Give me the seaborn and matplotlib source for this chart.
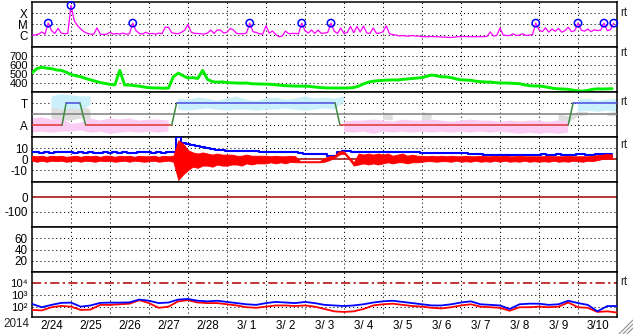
import numpy as np
import pandas as pd
import matplotlib
matplotlib.use("Agg")
import matplotlib.pyplot as plt
import seaborn as sns
from matplotlib.lines import Line2D
from matplotlib.ticker import NullLocator

sns.set_theme(style="white")
plt.rcParams['font.family'] = ['Liberation Sans', 'DejaVu Sans']

# ---------------- data ----------------
year_label = "2014"
day_labels = ["2/24", "2/25", "2/26", "2/27", "2/28", "3/ 1", "3/ 2", "3/ 3",
              "3/ 4", "3/ 5", "3/ 6", "3/ 7", "3/ 8", "3/ 9", "3/10"]
side_label = "rt"

# X-ray flux, 2-hour cadence, in units of 1e-6 W/m2 (C1 = 1)
xray_c = [
    1.0, 1.0, 1.2, 1.9, 1.2, 12, 2.5, 1.4, 4.0, 1.5, 1.3, 1.4,
    490, 20, 7, 3.5, 2.0, 1.4, 1.2, 1.2, 4.5, 1.2, 1.1, 1.2,
    1.8, 1.2, 1.4, 1.2, 1.5, 1.2, 1.3, 12, 2.5, 1.4, 1.2, 1.8,
    1.3, 1.4, 1.2, 1.5, 1.3, 5, 5, 1.6, 1.4, 1.3, 1.8, 2.8,
    9, 1.8, 1.4, 1.4, 1.3, 1.2, 1.5, 2.8, 1.4, 2.8, 2.8, 1.5,
    1.8, 4, 2.8, 1.4, 1.3, 1.3, 1.5, 12, 2.0, 1.7, 1.3, 1.2,
    7, 1.5, 2.3, 1.1, 0.7, 0.8, 2.3, 1.3, 1.4, 1.4, 1.3, 12,
    2.5, 1.5, 2.8, 1.4, 2.8, 1.4, 1.5, 1.7, 12, 2.2, 1.4, 4.3,
    1.4, 1.7, 6, 1.6, 6, 1.9, 6.5, 1.5, 1.4, 4.3, 1.4, 1.5,
    2.0, 7, 1.3, 1.1, 1.0, 0.8, 0.9, 0.8, 0.8, 0.9, 0.8, 0.8,
    0.7, 0.7, 0.7, 0.75, 0.7, 0.7, 0.65, 0.65, 0.6, 0.6, 0.65, 0.7,
    0.7, 0.75, 0.7, 0.7, 0.7, 0.7, 0.7, 0.7, 0.75, 1.9, 0.8, 0.9,
    4.3, 1.0, 0.9, 0.9, 1.3, 0.9, 1.0, 1.3, 0.9, 1.0, 1.1, 12,
    3, 2, 4.5, 1.8, 3.5, 2.2, 4, 1.8, 2.5, 5, 2.0, 2.5,
    12, 2.8, 2.2, 3.5, 2.0, 3, 2.5, 2.8, 12, 2.5, 3, 12,
]
flare_idx = [5, 12, 31, 67, 83, 92, 155, 168, 176, 179]
xray_tick_vals = [1e-6, 1e-5, 1e-4]
xray_tick_labels = ["C", "M", "X"]

# Solar wind speed, 3-hour cadence (km/s)
wind = [
    511, 560, 575, 565, 560, 545, 540, 520,
    495, 480, 470, 450, 435, 420, 405, 395,
    385, 380, 540, 378, 378, 370, 365, 355,
    348, 345, 344, 342, 344, 470, 510, 480,
    455, 460, 450, 540, 440, 415, 410, 412,
    405, 402, 400, 398, 400, 392, 390, 388,
    388, 385, 380, 375, 370, 368, 366, 365,
    365, 362, 355, 350, 346, 345, 344, 344,
    344, 345, 350, 365, 390, 410, 420, 425,
    430, 432, 435, 433, 440, 445, 450, 455,
    460, 475, 489, 480, 470, 467, 460, 445,
    435, 433, 430, 420, 415, 411, 410, 405,
    400, 400, 398, 395, 392, 380, 370, 367,
    367, 360, 350, 340, 335, 333, 330, 320,
    313, 310, 318, 330, 335, 333, 335, 337,
]
wind_ticks = [400, 500, 600, 700]

# Alert level (0 = A, 1 = T)
level_hours = [0, 18.5, 21, 29.5, 33, 86, 89, 186.5, 189.5, 330, 333, 360]
level_vals = [0, 0, 1, 1, 0, 0, 1, 1, 0, 0, 1, 1]
level_tick_labels = ["A", "T"]
nan = np.nan
# 6-hour cadence probability clouds (lower/upper)
gray_lo = [nan, nan, 0.3, 0.2, 0.2, 0.3, 0.2, nan, nan, 0.15, nan, nan, nan, nan, nan,
           nan, nan, nan, nan, nan, nan, nan, nan, nan, nan, nan, nan, nan, nan, nan, nan, nan,
           nan, 0.2, nan, nan, 0.25, 0.2, nan, nan, 0.2, 0.25, nan, nan, nan, 0.2, nan, nan,
           nan, nan, 0.15, nan, 0.2, nan, 0.15, 0.1, 0.4, 0.45, nan, 0.4, 0.4]
gray_hi = [nan, nan, 0.8, 1.0, 0.9, 0.9, 0.7, nan, nan, 0.45, nan, nan, nan, nan, nan,
           nan, nan, nan, nan, nan, nan, nan, nan, nan, nan, nan, nan, nan, nan, nan, nan, nan,
           nan, 0.5, nan, nan, 0.55, 0.5, nan, nan, 0.6, 0.5, nan, nan, nan, 0.45, nan, nan,
           nan, nan, 0.4, nan, 0.5, nan, 0.5, 0.4, 0.6, 0.6, nan, 0.55, 0.6]
pink_lo = [-0.35, -0.3, -0.35, -0.3, -0.3, -0.25, -0.35, -0.3, -0.4, -0.35, -0.3, -0.35, -0.3, -0.35, -0.3,
           nan, nan, nan, nan, nan, nan, nan, nan, nan, nan, nan, nan, nan, nan, nan, nan, nan,
           -0.3, -0.35, -0.3, -0.4, -0.3, -0.35, -0.3, -0.35, -0.3, -0.35, -0.3, -0.35, -0.3, -0.35, -0.3, -0.35,
           -0.3, -0.35, -0.4, -0.35, -0.4, -0.35, -0.4, -0.35, nan, nan, nan, nan, nan]
pink_hi = [0.3, 0.35, 0.25, 0.3, 0.05, 0.1, 0.3, 0.2, 0.3, 0.25, 0.3, 0.2, 0.25, 0.25, 0.2,
           nan, nan, nan, nan, nan, nan, nan, nan, nan, nan, nan, nan, nan, nan, nan, nan, nan,
           0.15, 0.2, 0.2, 0.25, 0.2, 0.15, 0.25, 0.2, 0.2, 0.25, 0.2, 0.15, 0.2, 0.25, 0.2, 0.2,
           0.15, 0.2, 0.15, 0.2, 0.2, 0.15, 0.2, 0.15, nan, nan, nan, nan, nan]
blue_lo = [nan, nan, 0.8, 0.7, 0.75, 0.7, 0.9, nan, nan, nan, nan, nan, nan, nan, nan,
           0.7, 0.65, 0.7, 0.75, 0.7, 0.65, 0.7, 0.7, 0.65, 0.7, 0.7, 0.75, 0.7, 0.65, 0.7, 0.75, 0.7,
           1.05, nan, nan, nan, nan, nan, 1.0, nan, nan, nan, nan, nan, nan, nan, nan, nan,
           nan, nan, nan, nan, nan, nan, nan, nan, 0.6, 0.65, 0.6, 0.65, 0.6]
blue_hi = [nan, nan, 1.3, 1.4, 1.35, 1.3, 1.3, nan, nan, nan, nan, nan, nan, nan, nan,
           1.2, 1.15, 1.25, 1.2, 1.1, 1.2, 1.3, 1.15, 1.1, 1.2, 1.25, 1.15, 1.2, 1.3, 1.2, 1.25, 1.2,
           1.3, nan, nan, nan, nan, nan, 1.35, nan, nan, nan, nan, nan, nan, nan, nan, nan,
           nan, nan, nan, nan, nan, nan, nan, nan, 1.15, 1.2, 1.1, 1.15, 1.2]

# IMF: Bz range (low / high) and Bt, 3-hour cadence (nT)
bz_lo = [
    -1.5, -2.5, -1.5, -2.5, -1.5, -2, -1.5, -2.5,
    -2, -1.5, -2.5, -1.5, -2, -2.5, -1.5, -2,
    -1.5, -2.5, -2, -1.5, -2.5, -1.5, -2, -2.5,
    -2, -1.5, -2.5, -2, -1.5, -2.5, -19, -14,
    -10, -7, -8, -6, -6, -7, -5, -6,
    -6, -5, -5, -6, -4, -5, -4, -4,
    -4, -3, -4, -3, -4, -2.5, -3, -3,
    -3, -3, -3, -3, -2.5, -1, 1, 4,
    5, 0, -6, -5, -4, -5, -4, -5,
    -4, -3, -4, -3, -3, -4, -3, -3,
    -2.5, -2, -2, -2.5, -2, -2, -2.5, -1.5,
    -2.5, -2, -2.5, -1.5, -2.5, -2, -2.5, -1.5,
    -2.5, -1.5, -2.5, -2, -2.5, -1.5, -2.5, -2,
    -2.5, -2, -2.5, -1.5, -2.5, -2, -2.5, -1.5,
    -2, -2.5, -1.5, -2, -1, 0, 0.5, 0,
]
bz_hi = [
    3, 2.5, 3, 2, 3, 2.5, 3, 2,
    2.5, 3, 2, 3, 2.5, 3, 2, 3,
    3, 2, 3, 2.5, 3, 2, 3, 2.5,
    2.5, 3, 2, 3, 2.5, 3, 17, 14,
    8, 6, 5, 6, 5, 4, 5, 4,
    4, 4, 3, 3, 4, 3, 3, 3,
    3, 2.5, 3, 2.5, 2.5, 3, 2.5, -2,
    -2, -2, -2, -2, 1, 2.5, 3, 7,
    7, 2, -3, 5, 4, 5, 4, 5,
    4, 5, 3, 4, 5, 3, 4, 3,
    3, 2.5, 3, 2.5, 3, 2.5, 3, 2.5,
    2.5, 3, 2.5, 2.5, 3, 2.5, 2.5, 3,
    2.5, 3, 2.5, 2.5, 3, 2.5, 2.5, 2.5,
    2.5, 2.5, 3, 2.5, 2.5, 2.5, 3, 2.5,
    2.5, 2.5, 2.5, 3, 3.5, 4, 4.5, 4,
]
bt = [
    6, 6, 5.5, 6, 5.5, 6, 6.5, 6,
    6, 5.5, 6, 5.5, 6, 5.5, 5.5, 6,
    5.5, 6, 5.5, 6, 5.5, 5.5, 6, 6,
    6, 5.5, 6, 5.5, 6, 6.5, 20, 15,
    14, 13, 12, 11, 10, 9, 8, 8,
    7.5, 7.5, 7.5, 7, 7, 7, 7, 6.5,
    6, 6, 6, 6, 6, 6, 6, 5.5,
    5, 5, 5, 5, 5, 3, 2.5, 6,
    7, 7, 6.5, 6.5, 6.5, 6.5, 6.5, 6,
    6, 6, 6, 6, 6, 6, 6, 6,
    5.5, 5.5, 5.5, 5.5, 5.5, 5.5, 5.5, 5.5,
    5.5, 5.5, 5, 5, 4.5, 4, 4, 4,
    4, 4, 4, 4, 4, 4, 4, 4,
    4, 4.5, 4, 4, 4.5, 4, 4, 4,
    4.5, 4.5, 4, 4, 4.5, 5, 5, 4.5,
]
bz_ticks = [-10, 0, 10]

dst_ticks = [-100, 0]
panel6_ticks = [20, 40, 60]

# Electron flux (log10), 6-hour cadence
elec_blue = [2.23, 1.95, 2.15, 2.32, 2.34, 2.0, 2.1, 2.32, 2.34, 2.34, 2.36, 2.6, 2.5, 2.3,
             2.35, 2.6, 2.65, 2.5, 2.45, 2.5, 2.4, 2.3, 2.2, 2.15, 2.3, 2.4, 2.35, 2.3,
             2.4, 2.3, 2.15, 2.1, 2.05, 2.1, 2.2, 2.35, 2.45, 2.5, 2.4, 2.3, 2.2, 2.1,
             2.1, 2.2, 2.35, 2.45, 2.2, 2.15, 2.1, 1.8, 2.2, 2.25, 2.25, 2.15, 2.2, 2.5,
             2.3, 2.15, 1.6, 2.05, 2.05]
elec_red = [1.72, 1.68, 1.95, 2.06, 2.0, 1.72, 1.75, 2.15, 2.15, 2.2, 2.25, 2.55, 2.3, 1.9,
            2.0, 2.45, 2.55, 2.35, 2.3, 2.3, 2.2, 2.1, 1.95, 1.9, 2.0, 2.1, 2.1, 2.05,
            2.1, 2.0, 1.8, 1.6, 1.55, 1.6, 1.8, 2.1, 2.2, 2.25, 2.15, 2.05, 2.0, 1.9,
            1.85, 1.95, 2.1, 2.2, 2.0, 1.95, 1.9, 1.65, 1.95, 1.95, 2.0, 1.95, 2.0, 2.35,
            1.95, 1.9, 1.55, 1.6, 1.5]
elec_threshold = 1e4
elec_ticks = [1e2, 1e3, 1e4]
elec_tick_labels = ["10\u00b2", "10\u00b3", "10\u2074"]

# ---------------- figure ----------------
W, H = 633, 334
fig = plt.figure(figsize=(W / 100, H / 100), dpi=100)
fig.patch.set_facecolor("white")
X0, X1 = 32, 617
bounds = [(2, 47), (47, 92), (92, 137), (137, 182), (182, 227), (227, 272), (272, 317)]
DOT = (0, (1, 2.8))
FS = 8.4

axes = []
for (y0, y1) in bounds:
    ax = fig.add_axes([X0 / W, 1 - y1 / H, (X1 - X0) / W, (y1 - y0) / H])
    ax.set_facecolor("white")
    for s in ax.spines.values():
        s.set_visible(True)
        s.set_color("black")
        s.set_linewidth(1.1)
    ax.tick_params(axis="both", length=0, labelsize=FS, pad=3, colors="black")
    axes.append(ax)


def hdots(ax, vals):
    for v in vals:
        ax.axhline(v, color="black", lw=0.75, ls=DOT, zorder=1)


h2 = np.arange(len(xray_c)) * 2 / 24
h3 = np.arange(len(wind)) * 3 / 24
h6 = np.arange(len(elec_blue)) * 6 / 24
h3b = np.arange(len(bt)) * 3 / 24

# Panel 1: X-ray
ax = axes[0]
ax.set_yscale("log")
flux = np.array(xray_c) * 1e-6
hdots(ax, xray_tick_vals)
sns.lineplot(x=h2, y=flux, ax=ax, color="#ff00ff", linewidth=0.9,
             estimator=None, zorder=3)
fi = np.array(flare_idx)
sns.scatterplot(x=h2[fi], y=flux[fi], ax=ax, s=28, color="none",
                edgecolor="#0000ff", linewidth=1.1, zorder=4, clip_on=False)
ax.collections[-1].set_facecolor("none")
ax.collections[-1].set_edgecolor("#0000ff")
ax.set_ylim(10 ** -7.09, 1e-3)
ax.set_yticks(xray_tick_vals)
ax.set_yticklabels(xray_tick_labels)
ax.yaxis.set_minor_locator(NullLocator())

# Panel 2: wind speed
ax = axes[1]
hdots(ax, wind_ticks)
sns.lineplot(x=h3, y=wind, ax=ax, color="#00ee00", linewidth=2.1,
             estimator=None, zorder=3)
ax.set_ylim(300, 800)
ax.set_yticks(wind_ticks)
ax.set_yticklabels([str(v) for v in wind_ticks], fontsize=8.0)

# Panel 3: alert level
ax = axes[2]
hdots(ax, [0, 1])
ax.fill_between(h6, gray_lo, gray_hi, color="#dedede", lw=0, zorder=2)
ax.fill_between(h6, pink_lo, pink_hi, color="#fbcdf5", lw=0, zorder=2)
ax.fill_between(h6, blue_lo, blue_hi, color="#c9f0fb", lw=0, zorder=2)
ax.axhline(0.5, color="#808080", lw=1.1, zorder=3)
lh = np.array(level_hours) / 24
for i in range(len(lh) - 1):
    a, b = level_vals[i], level_vals[i + 1]
    col = "#dd3333" if (a == 0 and b == 0) else ("#4a4ae0" if (a == 1 and b == 1) else "#3f8a3f")
    sns.lineplot(x=lh[i:i + 2], y=[a, b], ax=ax, color=col, linewidth=1.1,
                 estimator=None, zorder=4)
ax.set_ylim(-0.545, 1.5)
ax.set_yticks([0, 1])
ax.set_yticklabels(level_tick_labels)

# Panel 4: IMF
ax = axes[3]
hdots(ax, [-10, 10])
ax.axhline(0, color="#a00000", lw=1.1, zorder=2)
sns.lineplot(x=h3b, y=bt, ax=ax, color="#0000ff", linewidth=1.5,
             drawstyle="steps-mid", estimator=None, zorder=3)
ax.fill_between(h3b, bz_lo, bz_hi, color="#ff0000", lw=0.6, edgecolor="#ff0000", zorder=4)
ax.set_ylim(-20.9, 20)
ax.set_yticks(bz_ticks)
ax.set_yticklabels([str(v) for v in bz_ticks])

# Panel 5: Dst
ax = axes[4]
hdots(ax, [-100])
ax.axhline(0, color="#a00000", lw=1.1, zorder=2)
ax.set_ylim(-200, 100)
ax.set_yticks(dst_ticks)
ax.set_yticklabels([str(v) for v in dst_ticks])

# Panel 6
ax = axes[5]
hdots(ax, panel6_ticks)
ax.set_ylim(0, 80)
ax.set_yticks(panel6_ticks)
ax.set_yticklabels([str(v) for v in panel6_ticks])

# Panel 7: electrons
ax = axes[6]
ax.set_yscale("log")
hdots(ax, [1e2, 1e3])
ax.axhline(elec_threshold, color="#b00000", lw=1.1, ls=(0, (6, 2.2, 1.5, 2.2)), zorder=2)
sns.lineplot(x=h6, y=10 ** np.array(elec_red), ax=ax, color="#ff0000", linewidth=1.3,
             estimator=None, zorder=3)
sns.lineplot(x=h6, y=10 ** np.array(elec_blue), ax=ax, color="#0000ff", linewidth=1.3,
             estimator=None, zorder=4)
ax.set_ylim(10 ** 1.12, 10 ** 4.94)
ax.set_yticks(elec_ticks)
ax.set_yticklabels(elec_tick_labels, fontsize=8.2)
ax.yaxis.set_minor_locator(NullLocator())

for i, ax in enumerate(axes):
    ax.set_xlim(0, 15)
    ax.set_xlabel("")
    ax.set_ylabel("")
    for d in range(1, 15):
        ax.axvline(d, color="black", lw=0.75, ls=DOT, zorder=1)
    if i < len(axes) - 1:
        ax.set_xticks([])
    else:
        ax.set_xticks(np.arange(15) + 0.5)
        ax.set_xticklabels(day_labels)
        ax.tick_params(axis="x", pad=2.5)
    leg = ax.get_legend()
    if leg:
        leg.remove()

fig.text(3 / W, 1 - 324 / H, year_label, fontsize=FS, va="center", ha="left")
for yy in [12.5, 53, 102, 145, 282]:
    fig.text(620 / W, 1 - yy / H, side_label, fontsize=FS, va="center", ha="left")

for xs in [619, 623, 627]:
    ye = 334 - (633 - xs)
    fig.add_artist(Line2D([xs / W, 633 / W], [1 - 334 / H, 1 - ye / H],
                          color="#909090", lw=0.8))

fig.savefig("out.png", dpi=100, facecolor="white")
